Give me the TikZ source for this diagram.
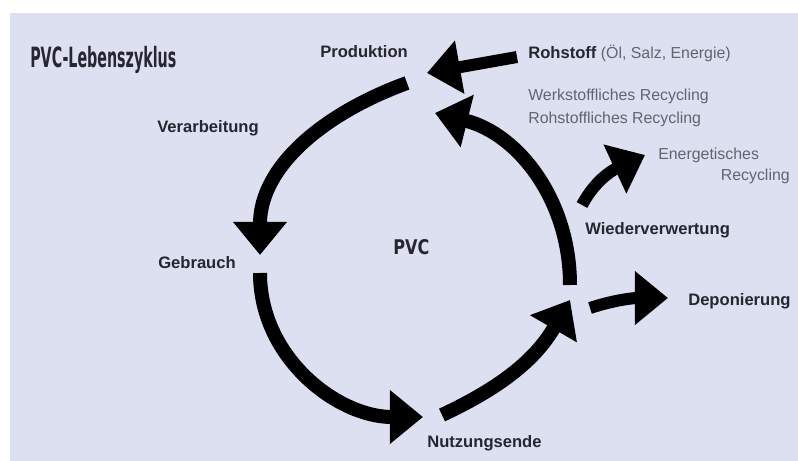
\documentclass[tikz,border=0pt]{standalone}
\usepackage{fontspec}
\setmainfont{Liberation Sans}
\newfontfamily\headfont{DejaVu Sans}
\usetikzlibrary{arrows.meta,positioning}
\definecolor{bgblue}{RGB}{221,224,241}
\definecolor{labeldark}{RGB}{38,38,48}
\definecolor{labelgray}{RGB}{100,100,110}

\begin{document}
\begin{tikzpicture}[x=0.025cm,y=0.025cm,>={Triangle[length=8.3mm,width=13mm]}]
  \tikzstyle{stage}=[inner sep=0pt,anchor=base west,text=labeldark,font=\fontsize{11.8}{14}\selectfont\bfseries]
  \tikzstyle{note}=[inner sep=0pt,anchor=base west,text=labelgray,font=\fontsize{11.3}{14}\selectfont]
  \tikzstyle{cycle arrow}=[->,line width=3.5mm]
  \tikzstyle{side arrow}=[->,line width=3mm]
  % Background
  \fill[white] (0,0) rectangle (798,461);
  \useasboundingbox (0,0) rectangle (798,461);
  \fill[bgblue] (10,0) rectangle (798,448);

  % Labels
  \node[stage,font=\headfont\bfseries] (title) at (30,393) {\resizebox{3.65cm}{0.53cm}{PVC-Lebenszyklus}};
  \node[stage] (prod) at (320,403) {Produktion};
  \node[stage] (verarb) at (157,328) {Verarbeitung};
  \node[stage] (gebr) at (158,192) {Gebrauch};
  \node[stage] (ende) at (427,13) {Nutzungsende};
  \node[stage] (wieder) at (585,226) {Wiederverwertung};
  \node[stage] (depo) at (688,155) {Deponierung};
  \node[stage,font=\headfont\bfseries] (pvc) at (393,206) {\resizebox{0.9cm}{0.375cm}{PVC}};
  \node[note] (rohstoff) at (528,402) {{\fontsize{11.8}{14}\selectfont\bfseries\color{labeldark}Rohstoff} (Öl, Salz, Energie)};
  \node[note] (werkrec) at (528,360) {Werkstoffliches Recycling};
  \node[note,below=0.55cm of werkrec.base west,anchor=base west] (rohrec) {Rohstoffliches Recycling};
  \node[note] (energ) at (658,301) {Energetisches};
  \node[note,anchor=base east] (energrec) at (790,280) {Recycling};

  % Arrow ends
  \coordinate (rawIn) at (517,404);
  \coordinate (rawTip) at (427,388);
  \coordinate (prodOut) at (407,378);
  \coordinate (gebrTip) at (260,206);
  \coordinate (gebrOut) at (260,188);
  \coordinate (endeTip) at (423,44);
  \coordinate (endeOut) at (442,46);
  \coordinate (wiederTip) at (570,161);
  \coordinate (wiederOut) at (570,176);
  \coordinate (prodTip) at (435,348);
  \coordinate (energOut) at (582,256);
  \coordinate (energTip) at (645,306);
  \coordinate (depoOut) at (590,153);
  \coordinate (depoTip) at (668,163);

  % Cycle
  \draw[side arrow] (rawIn) -- (rawTip);
  \draw[cycle arrow] (prodOut) to[out=200,in=90] (gebrTip);
  \draw[cycle arrow] (gebrOut) to[out=270,in=180] (endeTip);
  \draw[cycle arrow] (endeOut) to[out=25,in=240] (wiederTip);
  \draw[cycle arrow] (wiederOut) to[out=90,in=-14] (prodTip);
  \draw[side arrow] (energOut) to[out=62,in=205] (energTip);
  \draw[side arrow] (depoOut) to[out=18,in=180] (depoTip);
\end{tikzpicture}
\end{document}
